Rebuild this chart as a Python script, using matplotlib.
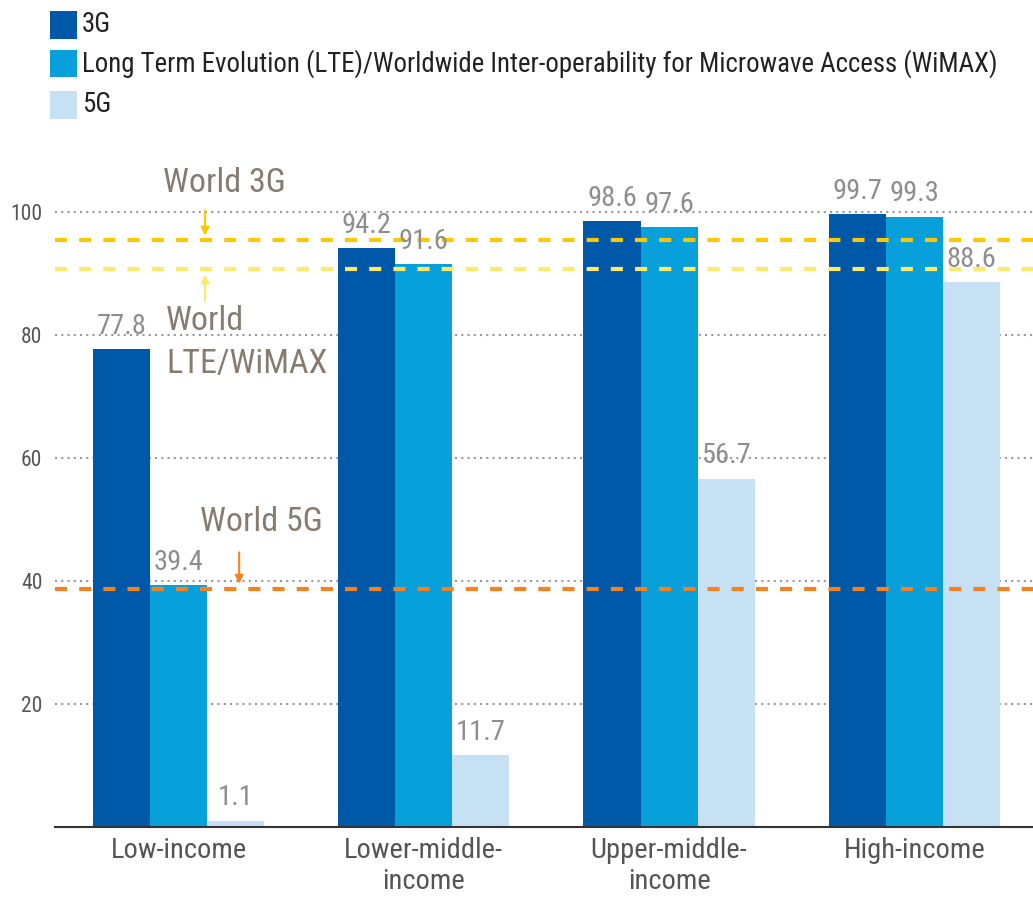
import numpy as np
import matplotlib.pyplot as plt
from matplotlib.patches import Rectangle

plt.rcParams['font.family'] = ['Roboto Condensed', 'DejaVu Sans']
plt.rcParams['font.stretch'] = 'condensed'

groups = ['Low-income', 'Lower-middle-\nincome', 'Upper-middle-\nincome', 'High-income']
series = ['3G',
          'Long Term Evolution (LTE)/Worldwide Inter-operability for Microwave Access (WiMAX)',
          '5G']
vals_3g = [77.8, 94.2, 98.6, 99.7]
vals_lte = [39.4, 91.6, 97.6, 99.3]
vals_5g = [1.1, 11.7, 56.7, 88.6]
world_3g = 95.5
world_lte = 90.7
world_5g = 38.7

colors = ['#0059a8', '#08a0db', '#c6e1f4']
label_col = '#8e8e8e'
note_col = '#877b70'

fig = plt.figure(figsize=(10.33, 8.98), dpi=100)
ax = fig.add_axes([55 / 1033, 70.7 / 898, 978 / 1033, (110 * 6.15) / 898])

x = np.arange(len(groups))
w = 57 / 245
all_vals = [vals_3g, vals_lte, vals_5g]
for i, (vals, c) in enumerate(zip(all_vals, colors)):
    pos = x + (i - 1) * w
    ax.bar(pos, vals, width=w, color=c, zorder=2, linewidth=0)
    for px, v in zip(pos, vals):
        ax.annotate(f'{v:.1f}', (px, v), xytext=(0, 11), textcoords='offset points',
                    ha='center', va='baseline', fontsize=20.5, color=label_col, zorder=4)

# world averages
ax.axhline(world_3g, color='#ffc700', lw=3, ls=(0, (2.9, 2.9)), zorder=3)
ax.axhline(world_lte, color='#ffe96a', lw=3, ls=(0, (2.9, 2.9)), zorder=3)
ax.axhline(world_5g, color='#f5821f', lw=3, ls=(0, (2.9, 2.9)), zorder=3)

ax.annotate('', xy=(0.108, world_3g + 0.7), xytext=(0.108, 100.3),
            arrowprops=dict(arrowstyle='-|>', color='#ffc700', lw=1.5, mutation_scale=12,
                            shrinkA=0, shrinkB=0))
ax.annotate('', xy=(0.108, world_lte - 0.8), xytext=(0.108, 85.6),
            arrowprops=dict(arrowstyle='-|>', color='#ffe96a', lw=1.5, mutation_scale=12,
                            shrinkA=0, shrinkB=0))
ax.annotate('', xy=(0.247, world_5g + 0.9), xytext=(0.247, 44.7),
            arrowprops=dict(arrowstyle='-|>', color='#f5821f', lw=1.5, mutation_scale=12,
                            shrinkA=0, shrinkB=0))

ax.text(0.186, 103.3, 'World 3G', ha='center', va='baseline', fontsize=24.5, color=note_col)
ax.text(-0.051, 80.9, 'World', ha='left', va='baseline', fontsize=24.5, color=note_col)
ax.text(-0.051, 73.9, 'LTE/WiMAX', ha='left', va='baseline', fontsize=24.5, color=note_col)
ax.text(0.088, 48.2, 'World 5G', ha='left', va='baseline', fontsize=24.5, color=note_col)

ax.set_xlim(-0.504, 3.484)
ax.set_ylim(0, 110)
ax.set_yticks([20, 40, 60, 80, 100])
ax.set_xticks(x)
ax.set_xticklabels(groups, linespacing=1.2)
ax.tick_params(axis='y', length=0, pad=9, labelsize=15.5, labelcolor='#555555')
ax.tick_params(axis='x', length=0, pad=7, labelsize=20.5, labelcolor='#555555')
ax.grid(axis='y', color='#999999', lw=1.5, ls=(0, (1, 2)), zorder=0)
for s in ['left', 'right', 'top']:
    ax.spines[s].set_visible(False)
ax.spines['bottom'].set_color('#333333')
ax.spines['bottom'].set_linewidth(1.5)
ax.spines['bottom'].set_zorder(5)

# legend swatches along the top
W, H = 1033, 898
legend_y = [25, 63.5, 105]
for name, c, yc in zip(series, colors, legend_y):
    fig.add_artist(Rectangle((50 / W, 1 - (yc + 13.5) / H), 27 / W, 27 / H,
                             transform=fig.transFigure, color=c, lw=0))
    fig.text(82 / W, 1 - yc / H, name, ha='left', va='center', fontsize=19.4,
             color='#222222')

fig.savefig('out.png', dpi=100)
